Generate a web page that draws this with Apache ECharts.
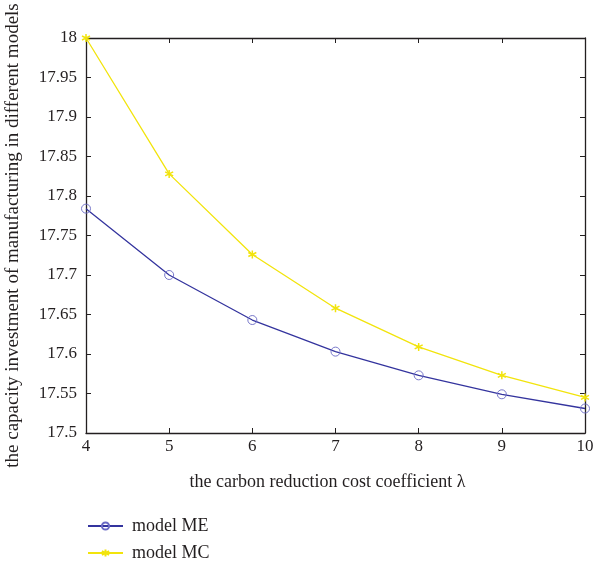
<!DOCTYPE html>
<html>
<head>
<meta charset="utf-8">
<script src="https://cdn.jsdelivr.net/npm/echarts@6/dist/echarts.min.js"></script>
<style>
  html, body { margin: 0; padding: 0; background: #fff; }
  #chart { width: 595px; height: 563px; }
</style>
</head>
<body>
<div id="chart"></div>
<script>
// carbon reduction cost coefficient λ
const lambdaValues = [4, 5, 6, 7, 8, 9, 10];
// capacity investment of manufacturing, per model
const modelME = [17.784, 17.700, 17.643, 17.603, 17.573, 17.549, 17.531];
const modelMC = [18.000, 17.828, 17.726, 17.658, 17.609, 17.573, 17.545];

const FONT = '"Liberation Serif", "DejaVu Serif", serif';
const TEXT = '#231f20';
const BLUE = '#34349e';
const CIRCLE = '#6a6ac4';
const YELLOW = '#f2e40c';
const ASTERISK = 'path://M0,-10L0,10M-8.66,-5L8.66,5M-8.66,5L8.66,-5';

const pairs = arr => lambdaValues.map((x, i) => [x, arr[i]]);

const axisLine = { show: true, onZero: false, lineStyle: { color: '#231f20', width: 1.3 } };
const tick = { show: true, inside: true, length: 5, lineStyle: { color: '#231f20', width: 1 } };

const legendCommon = {
  left: 82, orient: 'vertical', itemWidth: 35, itemHeight: 9,
  textStyle: { color: TEXT, fontFamily: FONT, fontSize: 18, padding: [0, 0, 0, 4] }
};

const chart = echarts.init(document.getElementById('chart'), null, { renderer: 'canvas' });
chart.setOption({
  animation: false,
  backgroundColor: '#fff',
  grid: { left: 86, right: 10, top: 38, bottom: 130, outerBoundsMode: 'none' },
  xAxis: [
    {
      type: 'value', min: 4, max: 10, interval: 1, position: 'bottom',
      axisLine, axisTick: tick, splitLine: { show: false },
      axisLabel: { color: TEXT, fontFamily: FONT, fontSize: 17, margin: 5 },
      name: 'the carbon reduction cost coefficient λ',
      nameLocation: 'middle', nameGap: 40,
      nameTextStyle: { color: TEXT, fontFamily: FONT, fontSize: 18, padding: [0, 16, 0, 0] }
    },
    {
      type: 'value', min: 4, max: 10, interval: 1, position: 'top',
      axisLine, axisTick: tick, splitLine: { show: false }, axisLabel: { show: false }
    }
  ],
  yAxis: [
    {
      type: 'value', min: 17.5, max: 18, interval: 0.05, position: 'left',
      axisLine, axisTick: tick, splitLine: { show: false },
      axisLabel: {
        color: TEXT, fontFamily: FONT, fontSize: 17, margin: 9,
        formatter: v => String(+v.toFixed(2))
      },
      name: 'the capacity investment of manufacturing in different models',
      nameLocation: 'middle', nameGap: 63,
      nameTextStyle: { color: TEXT, fontFamily: FONT, fontSize: 19 }
    },
    {
      type: 'value', min: 17.5, max: 18, interval: 0.05, position: 'right',
      axisLine, axisTick: tick, splitLine: { show: false }, axisLabel: { show: false }
    }
  ],
  legend: [
    Object.assign({ top: 512, data: ['model ME'] }, legendCommon),
    Object.assign({ top: 539, data: ['model MC'] }, legendCommon)
  ],
  series: [
    {
      name: 'model ME', type: 'line', data: pairs(modelME),
      symbol: 'circle', symbolSize: 9,
      lineStyle: { color: BLUE, width: 1.3 },
      itemStyle: { color: 'rgba(0,0,0,0)', borderColor: CIRCLE, borderWidth: 0.9 }
    },
    {
      name: 'model MC', type: 'line', data: pairs(modelMC),
      symbol: ASTERISK, symbolSize: 8,
      lineStyle: { color: YELLOW, width: 1.3 },
      itemStyle: { color: YELLOW, borderColor: YELLOW, borderWidth: 1.5 }
    }
  ]
});
</script>
</body>
</html>
